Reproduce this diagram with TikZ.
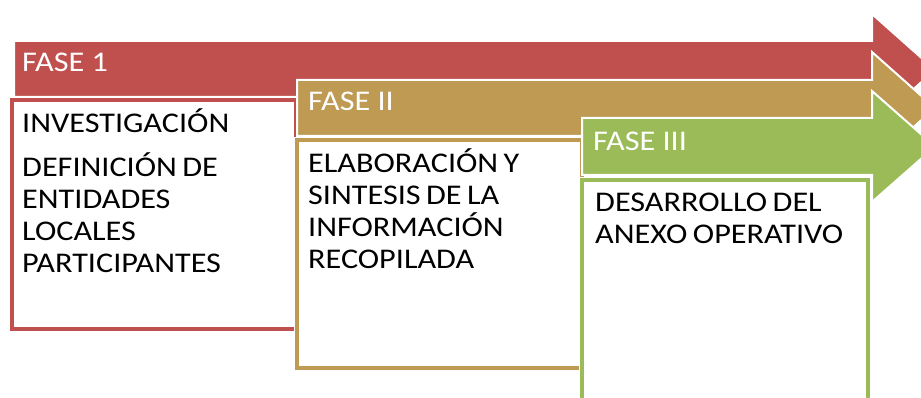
\documentclass[tikz,border=0pt]{standalone}
\usepackage{fontspec}
\setmainfont{Carlito}[FakeStretch=1.13]
\definecolor{fred}{HTML}{C0504D}
\definecolor{fbrown}{HTML}{BE9A53}
\definecolor{fgreen}{HTML}{9BBB59}
\newcommand\mytightspace{\spaceskip=5.5pt plus 1pt\relax}
\tikzset{
  phasearrow/.style={draw=white, line width=2pt, line join=miter},
  phasebox/.style={fill=white, line width=3.5pt, preaction={draw=white, line width=6pt}},
  phaselabel/.style={anchor=base west, inner sep=0pt, text=white, font=\fontsize{28.5}{32}\selectfont},
  boxtext/.style={anchor=base west, inner sep=0pt, text=black, text width=280pt, align=left, font=\fontsize{28.5}{31.8}\selectfont, execute at begin node=\mytightspace},
}
\begin{document}
\begin{tikzpicture}[x=1pt,y=-1pt]
\useasboundingbox (0,0) rectangle (921,398);
\clip (0,0) rectangle (921,398);
% FASE 1
\fill[phasearrow, fill=fred] (14,41) -- (872,41) -- (872,14) -- (935,70) -- (872,126) -- (872,97) -- (14,97) -- cycle;
\draw[phasebox, draw=fred] (12,100) rectangle (296,329);
% FASE II
\fill[phasearrow, fill=fbrown] (297,80) -- (872,80) -- (872,52) -- (935,108) -- (872,164) -- (872,136) -- (297,136) -- cycle;
\draw[phasebox, draw=fbrown] (297,140) rectangle (582,368);
% FASE III
\fill[phasearrow, fill=fgreen] (582,118) -- (872,118) -- (872,91) -- (935,146.5) -- (872,202) -- (872,175) -- (582,175) -- cycle;
\draw[phasebox, draw=fgreen] (582,180) rectangle (868,420);
% labels
\node[phaselabel] (l1) at (22,72) {FASE 1};
\node[phaselabel] (l2) at (308,111) {FASE II};
\node[phaselabel] (l3) at (593,151) {FASE III};
\node[boxtext] (t1) at (22,133) {INVESTIGACIÓN\\[12pt]DEFINICIÓN DE\\ENTIDADES\\LOCALES\\PARTICIPANTES};
\node[boxtext] (t2) at (308,173) {ELABORACIÓN Y\\SINTESIS DE LA\\INFORMACIÓN\\RECOPILADA};
\node[boxtext] (t3) at (595,212) {DESARROLLO DEL\\ANEXO OPERATIVO};
\end{tikzpicture}
\end{document}
